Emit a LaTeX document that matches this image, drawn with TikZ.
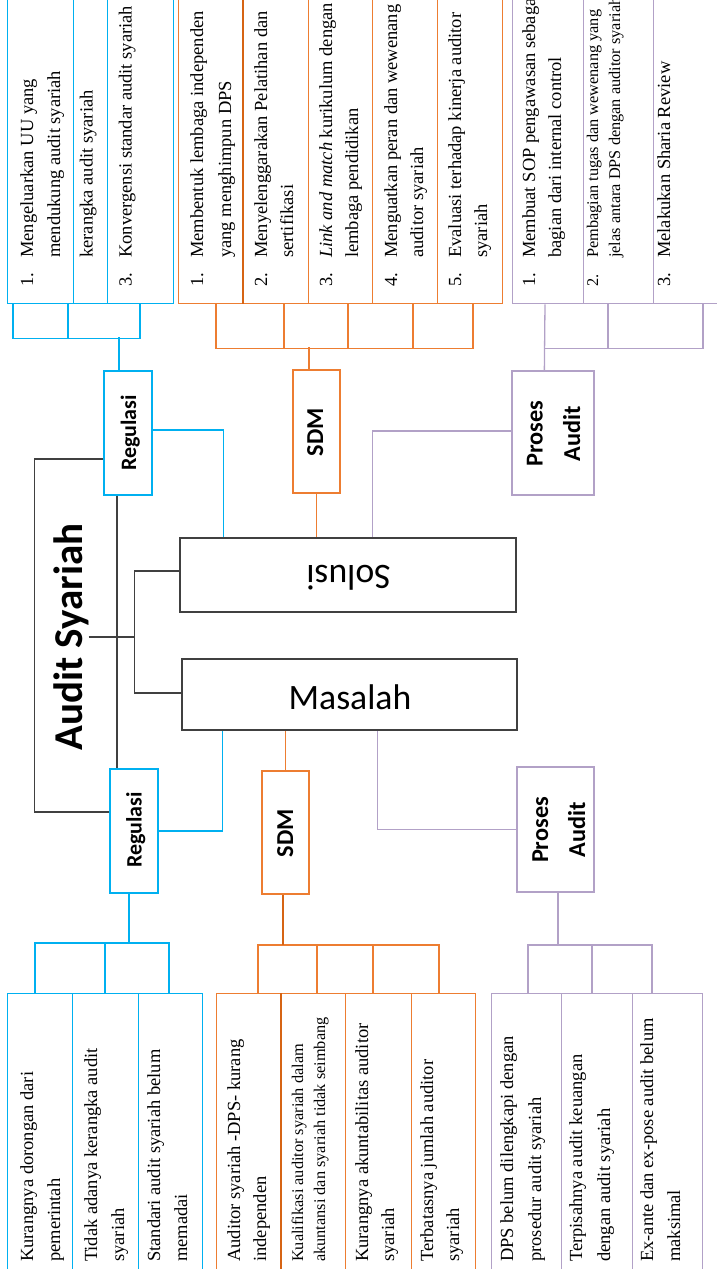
\documentclass[tikz,border=0pt]{standalone}
\usepackage{fontspec}
\setmainfont{Liberation Serif}
\newfontfamily\carl{Carlito}
\usetikzlibrary{calc}
\definecolor{cb}{RGB}{0,176,240}
\definecolor{co}{RGB}{237,125,49}
\definecolor{cod}{RGB}{214,100,20}
\definecolor{cp}{RGB}{178,161,199}
\definecolor{ck}{RGB}{64,64,64}
\newcommand{\nm}[1]{\makebox[29pt][l]{#1}}
\begin{document}
\begin{tikzpicture}[x=1pt,y=-1pt,
  lf/.style={rotate=90, anchor=base west, inner sep=0pt, font=\fontsize{18.5}{22}\selectfont},
  lfs/.style={lf, font=\fontsize{16.3}{20}\selectfont},
  leafbox/.style={draw, inner sep=0pt, anchor=north west, line width=1.3pt},
  catbox/.style={draw, inner sep=0pt, line width=1.3pt},
  cat/.style={rotate=90, anchor=base, inner sep=0pt, font=\carl\bfseries\fontsize{22}{26}\selectfont},
  catb/.style={cat, font=\carl\bfseries\fontsize{24.3}{28}\selectfont},
  wire/.style={line width=1.3pt}]
\useasboundingbox (0,0) rectangle (717,1269);
\clip (0,0) rectangle (717,1269);

% ---------- top leaf boxes ----------
\node[leafbox,draw=cb,minimum width=66pt,minimum height=323pt] (tb1) at (7,-20) {};
\node[leafbox,draw=cb,minimum width=34pt,minimum height=323pt] (tb2) at (73,-20) {};
\node[leafbox,draw=cb,minimum width=66pt,minimum height=323pt] (tb3) at (107,-20) {};
\node[leafbox,draw=co,minimum width=65pt,minimum height=323pt] (to1) at (178,-20) {};
\node[leafbox,draw=co,minimum width=65pt,minimum height=323pt] (to2) at (243,-20) {};
\node[leafbox,draw=co,minimum width=64pt,minimum height=323pt] (to3) at (308,-20) {};
\node[leafbox,draw=co,minimum width=65pt,minimum height=323pt] (to4) at (372,-20) {};
\node[leafbox,draw=co,minimum width=65pt,minimum height=323pt] (to5) at (437,-20) {};
\node[leafbox,draw=cp,minimum width=71pt,minimum height=323pt] (tp1) at (512,-20) {};
\node[leafbox,draw=cp,minimum width=70pt,minimum height=323pt] (tp2) at (583,-20) {};
\node[leafbox,draw=cp,minimum width=70pt,minimum height=323pt] (tp3) at (653,-20) {};
\draw[line width=2pt,cod] (to2.north west) -- (to2.south west);

% top texts
\node[lf] (tb1a) at (33,287) {\nm{1.}Mengeluarkan UU yang};
\node[lf] (tb1b) at (60,258) {mendukung audit syariah};
\node[lf] (tb2a) at (92.5,258) {kerangka audit syariah};
\node[lf] (tb3a) at (131.5,287) {\nm{3.}Konvergensi standar audit syariah};
\node[lf] (to1a) at (203,287) {\nm{1.}Membentuk lembaga independen};
\node[lf] (to1b) at (231,258) {yang menghimpun DPS};
\node[lf] (to2a) at (267,287) {\nm{2.}Menyelenggarakan Pelatihan dan};
\node[lf] (to2b) at (293,258) {sertifikasi};
\node[lf] (to3a) at (332,287) {\nm{3.}\textit{Link and match} kurikulum dengan};
\node[lf] (to3b) at (358,258) {lembaga pendidikan};
\node[lf] (to4a) at (397,287) {\nm{4.}Menguatkan peran dan wewenang};
\node[lf] (to4b) at (423,258) {auditor syariah};
\node[lf] (to5a) at (461,287) {\nm{5.}Evaluasi terhadap kinerja auditor};
\node[lf] (to5b) at (487,258) {syariah};
\node[lf] (tp1a) at (535,287) {\nm{1.}Membuat SOP pengawasan sebagai};
\node[lf] (tp1b) at (561,258) {bagian dari internal control};
\node[lfs] (tp2a) at (598,287) {\nm{2.}Pembagian tugas dan wewenang yang};
\node[lfs] (tp2b) at (620,258) {jelas antara DPS dengan auditor syariah};
\node[lf] (tp3a) at (670,287) {\nm{3.}Melakukan Sharia Review};

% ---------- bottom leaf boxes ----------
\node[leafbox,draw=cb,minimum width=65pt,minimum height=297pt] (lb1) at (7,993) {};
\node[leafbox,draw=cb,minimum width=66pt,minimum height=297pt] (lb2) at (72,993) {};
\node[leafbox,draw=cb,minimum width=64pt,minimum height=297pt] (lb3) at (138,993) {};
\node[leafbox,draw=co,minimum width=65pt,minimum height=297pt] (lo1) at (216,993) {};
\node[leafbox,draw=co,minimum width=64pt,minimum height=297pt] (lo2) at (281,993) {};
\node[leafbox,draw=co,minimum width=66pt,minimum height=297pt] (lo3) at (345,993) {};
\node[leafbox,draw=co,minimum width=64pt,minimum height=297pt] (lo4) at (411,993) {};
\node[leafbox,draw=cp,minimum width=70pt,minimum height=297pt] (lp1) at (491,993) {};
\node[leafbox,draw=cp,minimum width=71pt,minimum height=297pt] (lp2) at (561,993) {};
\node[leafbox,draw=cp,minimum width=70pt,minimum height=297pt] (lp3) at (632,993) {};
\draw[line width=2pt,cod] (lo2.north west) -- (lo2.south west);

% bottom texts
\node[lf] (lb1a) at (33,1262) {Kurangnya dorongan dari};
\node[lf] (lb1b) at (60,1262) {pemerintah};
\node[lf] (lb2a) at (97,1262) {Tidak adanya kerangka audit};
\node[lf] (lb2b) at (124,1262) {syariah};
\node[lf] (lb3a) at (160,1262) {Standari audit syariah belum};
\node[lf] (lb3b) at (187,1262) {memadai};
\node[lf] (lo1a) at (240,1262) {Auditor syariah -DPS- kurang};
\node[lf] (lo1b) at (266,1262) {independen};
\node[lfs] (lo2a) at (303,1262) {Kualifikasi auditor syariah dalam};
\node[lfs] (lo2b) at (325,1262) {akuntansi dan syariah tidak seimbang};
\node[lf] (lo3a) at (368,1262) {Kurangnya akuntabilitas auditor};
\node[lf] (lo3b) at (394,1262) {syariah};
\node[lf] (lo4a) at (433,1262) {Terbatasnya jumlah auditor};
\node[lf] (lo4b) at (459,1262) {syariah};
\node[lf] (lp1a) at (513,1262) {DPS belum dilengkapi dengan};
\node[lf] (lp1b) at (541,1262) {prosedur audit syariah};
\node[lf] (lp2a) at (582,1262) {Terpisahnya audit keuangan};
\node[lf] (lp2b) at (610,1262) {dengan audit syariah};
\node[lf] (lp3a) at (653,1262) {Ex-ante dan ex-pose audit belum};
\node[lf] (lp3b) at (680,1262) {maksimal};

% ---------- category boxes ----------
\node[catbox,draw=cb,minimum width=48pt,minimum height=124pt] (regU) at (128,433) {};
\node[cat] (regUt) at (136,433) {Regulasi};
\node[catbox,draw=co,minimum width=47pt,minimum height=123pt] (sdmU) at (316.5,431.5) {};
\node[catb] (sdmUt) at (323,432) {SDM};
\node[catbox,draw=cp,minimum width=82pt,minimum height=124pt] (proU) at (553,433) {};
\node[catb] (proUt1) at (542.5,433.5) {Proses};
\node[catb] (proUt2) at (580,433.5) {Audit};

\node[catbox,draw=cb,minimum width=48pt,minimum height=124pt] (regL) at (134,831) {};
\node[cat] (regLt) at (141.5,830) {Regulasi};
\node[catbox,draw=co,minimum width=47pt,minimum height=123pt] (sdmL) at (285.5,832.5) {};
\node[catb] (sdmLt) at (293,833) {SDM};
\node[catbox,draw=cp,minimum width=77pt,minimum height=125pt] (proL) at (555.5,829.5) {};
\node[catb] (proLt1) at (548,830) {Proses};
\node[catb] (proLt2) at (585,829.5) {Audit};

% ---------- main boxes ----------
\node[catbox,draw=ck,minimum width=336pt,minimum height=74pt] (solusi) at (348,575) {};
\node[rotate=180,anchor=base,inner sep=0pt,font=\carl\fontsize{35.7}{40}\selectfont] (solusit) at (348.5,565) {Solusi};
\node[catbox,draw=ck,minimum width=335pt,minimum height=71pt] (masalah) at (349.5,694.5) {};
\node[anchor=base,inner sep=0pt,font=\carl\fontsize{35.7}{40}\selectfont] (masalaht) at (350,709) {Masalah};
\node[rotate=90,anchor=base,inner sep=0pt,font=\carl\bfseries\fontsize{41}{48}\selectfont] (root) at (82,637) {Audit Syariah};

% ---------- black connectors ----------
\coordinate (xk) at (117,0);
\coordinate (jr) at (135,637);
\draw[wire,ck] ($(regU.west)+(0,26)$) -| ($(regL.west)+(-75,-19)$) -- ($(regL.west)+(0,-19)$);
\draw[wire,ck] (regU.south -| xk) -- (regL.north -| xk);
\draw[wire,ck] (root.south) -- (root.south -| jr);
\draw[wire,ck] ($(solusi.west)+(0,-4)$) -| ($(masalah.west)+(-47,-1.5)$) -- ($(masalah.west)+(0,-1.5)$);

% ---------- solusi connectors ----------
\draw[wire,cb] ($(regU.east)+(0,-3)$) -| ($(solusi.north west)+(44,0)$);
\draw[wire,co] (sdmU.south) -- (sdmU.south |- solusi.north);
\draw[wire,cp] ($(proU.west)+(0,-2)$) -| ($(solusi.north west)+(193,0)$);

% ---------- masalah connectors ----------
\draw[wire,cb] (regL.east) -| ($(masalah.south west)+(41,0)$);
\draw[wire,co] (sdmL.north) -- (sdmL.north |- masalah.south);
\draw[wire,cp] (proL.west) -| ($(masalah.south west)+(196,0)$);

% ---------- top brackets ----------
\coordinate (jtb) at (119,337);
\draw[wire,cb] (regU.north -| jtb) -- (jtb);
\draw[wire,cb] ($(tb1.south west)+(6,0)$) -- ++(0,34) -| ($(tb3.south west)+(33,0)$);
\draw[wire,cb] ($(tb1.south west)+(61,0)$) -- ++(0,34);

\coordinate (jto) at (309,347);
\draw[wire,co] (sdmU.north -| jto) -- (jto);
\draw[wire,co] ($(to1.south west)+(38,0)$) -- ++(0,44) -| ($(to5.south west)+(36,0)$);
\draw[wire,co] ($(to2.south west)+(41,0)$) -- ++(0,44);
\draw[wire,co] ($(to3.south west)+(40,0)$) -- ++(0,44);
\draw[wire,co] ($(to4.south west)+(41,0)$) -- ++(0,44);

\draw[wire,cp] ($(tp1.south west)+(33,0)$) -- ($(proU.north west)+(33,0)$);
\draw[wire,cp] ($(tp1.south west)+(33,44)$) -| ($(tp3.south west)+(50,0)$);
\draw[wire,cp] ($(tp2.south west)+(25,0)$) -- ++(0,44);

% ---------- bottom brackets ----------
\coordinate (jlb) at (129,943);
\draw[wire,cb] (regL.south -| jlb) -- (jlb);
\draw[wire,cb] ($(lb1.north west)+(28,0)$) -- ++(0,-50) -| ($(lb3.north west)+(31,0)$);
\draw[wire,cb] ($(lb2.north west)+(33,0)$) -- ++(0,-50);

\coordinate (jlo) at (283,945);
\draw[wire,co] ($(lo1.north west)+(42,0)$) -- ++(0,-48) -| ($(lo4.north west)+(28,0)$);
\draw[wire,co] ($(lo2.north west)+(36,0)$) -- ++(0,-48);
\draw[wire,co] ($(lo3.north west)+(28,0)$) -- ++(0,-48);
\draw[line width=2.2pt,cod] (sdmL.south -| jlo) -- (jlo);

\coordinate (jlp) at (558,945);
\draw[wire,cp] (proL.south -| jlp) -- (jlp);
\draw[wire,cp] ($(lp1.north west)+(37,0)$) -- ++(0,-48) -| ($(lp3.north west)+(20,0)$);
\draw[wire,cp] ($(lp2.north west)+(31,0)$) -- ++(0,-48);
\end{tikzpicture}
\end{document}
